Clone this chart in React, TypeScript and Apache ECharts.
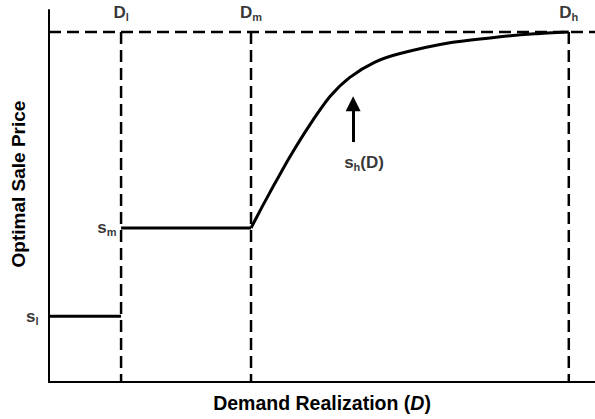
import React, { useEffect, useRef } from 'react';
import * as echarts from 'echarts';

// ---- data (abstract units: x = demand realization, y = optimal sale price) ----
const X_MAX = 100;
const Y_MAX = 100;
const thresholdSubs = ['l', 'm', 'h'];
const thresholdValues = [13.2, 37.0, 95.2];
const lowPrice = 17.7;
const midPrice = 41.4;
const topPrice = 94.1;
const curveD = [37.0, 39.0, 41.0, 44.1, 47.8, 51.5, 55.1, 59.7, 64.3, 73.4, 82.6, 89.0, 95.2];
const curveS = [41.4, 47.0, 52.4, 60.5, 69.2, 76.8, 81.9, 86.0, 88.3, 91.2, 92.8, 93.6, 94.1];
const arrowD = 55.7;
const arrowFrom = 64.5;
const arrowTo = 74.8;
const curveLabelPos = [57.7, 58.9];

const FONT = '"Liberation Sans", Arial, Helvetica, sans-serif';
const BLACK = '#000';

const subRich = {
  a: { fontSize: 17, fontWeight: 'bold', fontFamily: FONT, color: BLACK, lineHeight: 20 },
  b: { fontSize: 11, fontWeight: 'bold', fontFamily: FONT, color: BLACK, lineHeight: 11, verticalAlign: 'bottom' },
};

export default function App() {
  const ref = useRef<HTMLDivElement>(null);

  useEffect(() => {
    if (!ref.current) return;
    const chart = echarts.init(ref.current, undefined, { renderer: 'svg' });

    const dashed = { color: BLACK, width: 2.5, type: [12, 6] as any };
    const solid = { color: BLACK, width: 3, type: 'solid' as any };

    const verticalSeries = thresholdValues.map((v) => ({
      type: 'line',
      data: [[v, topPrice], [v, 0]],
      symbol: 'none',
      lineStyle: dashed,
      silent: true,
      z: 2,
    }));

    chart.setOption({
      animation: false,
      grid: { left: 49, right: 0, top: 10, bottom: 37 },
      xAxis: {
        type: 'value',
        min: 0,
        max: X_MAX,
        axisLine: { show: true, onZero: false, lineStyle: { color: BLACK, width: 2 } },
        axisTick: { show: false },
        axisLabel: { show: false },
        splitLine: { show: false },
        name: 'Demand Realization ({i|D})',
        nameLocation: 'middle',
        nameGap: 11,
        nameTextStyle: {
          fontSize: 19.5,
          fontWeight: 'bold',
          fontFamily: FONT,
          color: BLACK,
          rich: { i: { fontSize: 19.5, fontWeight: 'bold', fontStyle: 'italic', fontFamily: FONT, color: BLACK } },
        },
      },
      yAxis: {
        type: 'value',
        min: 0,
        max: Y_MAX,
        axisLine: { show: true, onZero: false, lineStyle: { color: BLACK, width: 2 } },
        axisTick: { show: false },
        axisLabel: { show: false },
        splitLine: { show: false },
        name: 'Optimal Sale Price',
        nameLocation: 'middle',
        nameRotate: 90,
        nameGap: 21,
        nameTextStyle: {
          fontSize: 19,
          fontWeight: 'bold',
          fontFamily: FONT,
          color: BLACK,
          padding: [0, 0, 0, 24],
        },
      },
      series: [
        {
          type: 'line',
          data: [[0, topPrice], [X_MAX, topPrice]],
          symbol: 'none',
          lineStyle: dashed,
          silent: true,
          z: 2,
        },
        ...verticalSeries,
        {
          type: 'line',
          data: [[0, lowPrice], [thresholdValues[0], lowPrice]],
          symbol: 'none',
          lineStyle: solid,
          z: 3,
        },
        {
          type: 'line',
          data: [[thresholdValues[0], midPrice], [thresholdValues[1], midPrice]],
          symbol: 'none',
          lineStyle: solid,
          z: 3,
        },
        {
          type: 'line',
          data: curveD.map((d, i) => [d, curveS[i]]),
          symbol: 'none',
          smooth: 0.25,
          lineStyle: solid,
          z: 3,
          markLine: {
            silent: true,
            symbol: ['none', 'triangle'],
            symbolSize: [15, 15],
            lineStyle: { color: BLACK, width: 3, type: 'solid' },
            label: { show: false },
            data: [[{ coord: [arrowD, arrowFrom] }, { coord: [arrowD, arrowTo] }]],
          },
        },
        {
          type: 'scatter',
          symbolSize: 1,
          itemStyle: { color: 'rgba(0,0,0,0)' },
          silent: true,
          data: thresholdValues.map((v, i) => ({
            value: [v, topPrice],
            label: { formatter: `{a|D}{b|${thresholdSubs[i]}}` },
          })),
          label: { show: true, position: 'top', distance: 9, rich: subRich },
          z: 5,
        },
        {
          type: 'scatter',
          symbolSize: 1,
          itemStyle: { color: 'rgba(0,0,0,0)' },
          silent: true,
          data: [
            { value: [0, lowPrice], label: { formatter: '{a|s}{b|l}', distance: 10 } },
            { value: [thresholdValues[0], midPrice], label: { formatter: '{a|s}{b|m}', distance: 4 } },
          ],
          label: { show: true, position: 'left', rich: subRich },
          z: 5,
        },
        {
          type: 'scatter',
          symbolSize: 1,
          itemStyle: { color: 'rgba(0,0,0,0)' },
          silent: true,
          data: [{ value: curveLabelPos, label: { formatter: '{a|s}{b|h}{a|(D)}' } }],
          label: { show: true, position: 'inside', rich: subRich },
          z: 5,
        },
      ],
    });

    return () => chart.dispose();
  }, []);

  return (
    <div
      ref={ref}
      style={{ position: 'fixed', left: 0, top: 0, width: 595, height: 419, background: '#fff' }}
    />
  );
}
